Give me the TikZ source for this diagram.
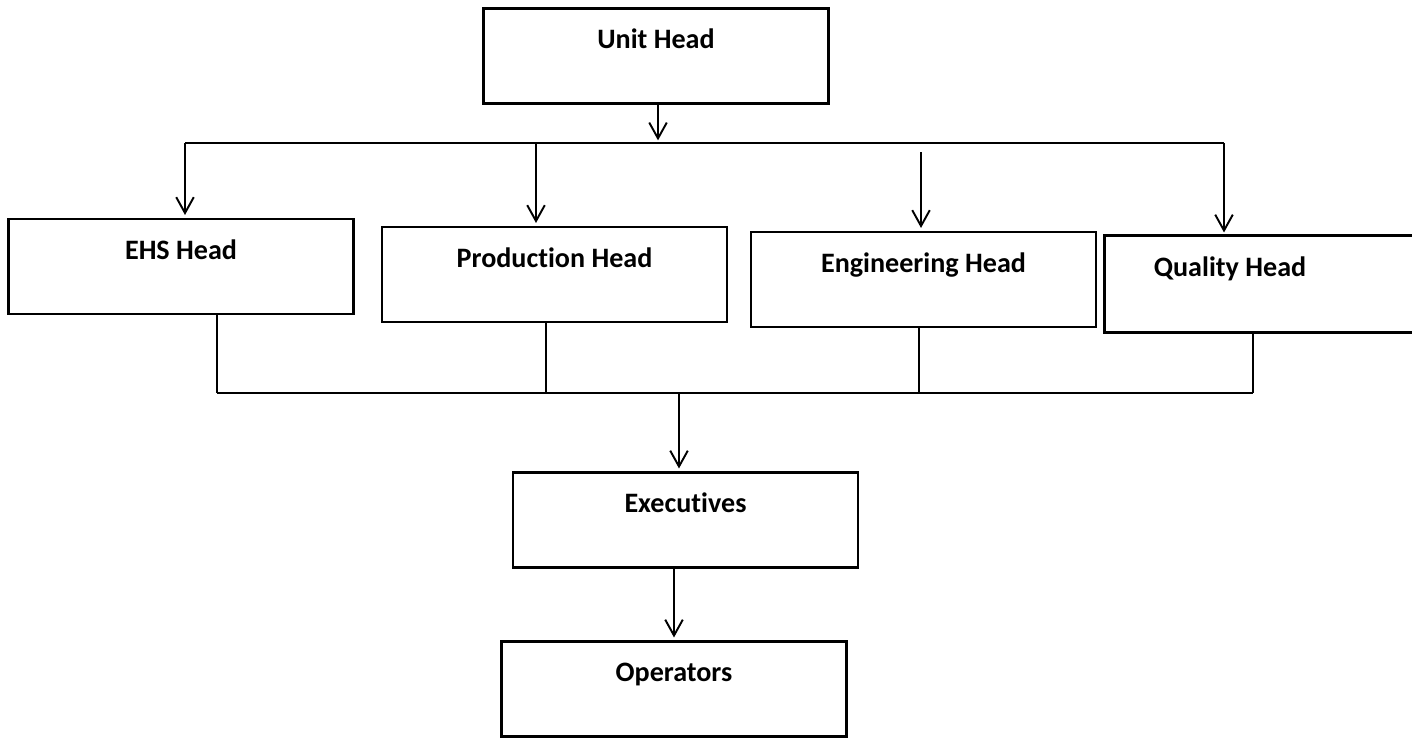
\documentclass[tikz,border=0pt]{standalone}
\usepackage{fontspec}
\setmainfont{Carlito}[Ligatures=CommonOff]
\usetikzlibrary{arrows.meta}

\begin{document}
\begin{tikzpicture}[x=0.02cm, y=-0.02cm,
        box/.style={draw, line width=1.6pt, minimum width=6.9cm, inner xsep=0pt, inner ysep=0pt,
            text height=0.8cm, text depth=1.1cm, font=\fontsize{16}{19}\selectfont\bfseries},
        pfeil/.style={-{Straight Barb[length=9pt,width=10pt]}, line width=1.1pt, shorten >=1.5pt},
        linie/.style={line width=1.1pt}]
        \useasboundingbox (0,0) rectangle (1412,737);

        % zeichne Kaesten
        \node[box] (unit) at (656,56) {Unit Head};
        \node[box] (ehs) at (181,266.5) {EHS Head};
        \node[box] (prod) at (554.5,274.5) {Production Head};
        \node[box] (eng) at (923.5,279.5) {Engineering Head};
        \node[box, draw=none, minimum width=4.96cm] (qual) at (1230,284) {Quality Head};
        \draw[line width=1.6pt] ([xshift=2cm]qual.north east) -- (qual.north west) -- (qual.south west) -- ([xshift=2cm]qual.south east);
        \node[box] (exec) at (685.5,520) {Executives};
        \node[box] (oper) at (674,689) {Operators};

        % zeichne obere Verteilung
        \coordinate (obenL) at (185,143);
        \coordinate (obenM) at (658,143);
        \coordinate (obenR) at (1224,143);
        \coordinate (dprod) at (536,143);
        \coordinate (deng) at (921,152);

        \draw[pfeil] (unit.south -| obenM) -- (obenM);
        \draw[linie] (obenL) -- (obenR);
        \draw[pfeil] (obenL) -- (obenL |- ehs.north);
        \draw[pfeil] (dprod) -- (dprod |- prod.north);
        \draw[pfeil] (deng) -- (deng |- eng.north);
        \draw[pfeil] (obenR) -- (obenR |- qual.north);

        % zeichne untere Sammlung
        \coordinate (uehs) at (217,393);
        \coordinate (uprod) at (546,393);
        \coordinate (ueng) at (919,393);
        \coordinate (uqual) at (1253,393);
        \coordinate (umid) at (679,393);

        \draw[linie] (ehs.south -| uehs) -- (uehs);
        \draw[linie] (prod.south -| uprod) -- (uprod);
        \draw[linie] (eng.south -| ueng) -- (ueng);
        \draw[linie] (qual.south -| uqual) -- (uqual);
        \draw[linie] (uehs) -- (uqual);

        % zeichne Pfeile nach unten
        \draw[pfeil] (umid) -- (umid |- exec.north);
        \draw[pfeil] (exec.south -| oper.north) -- (oper.north);
    \end{tikzpicture}
\end{document}
